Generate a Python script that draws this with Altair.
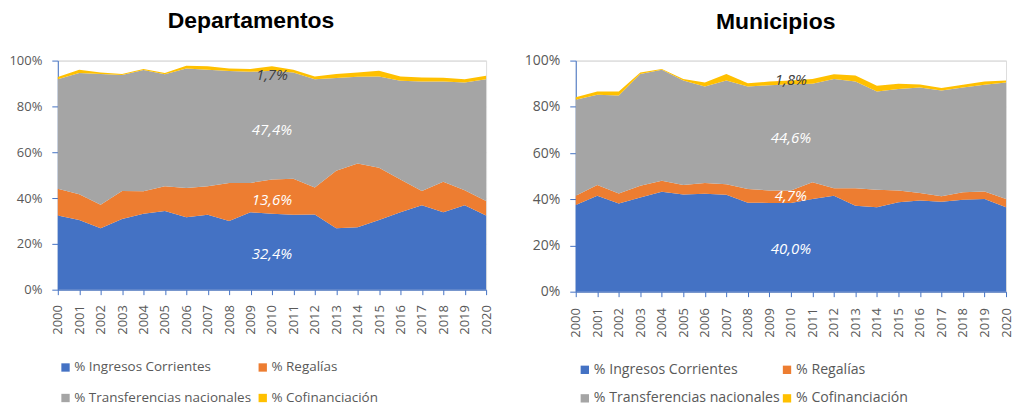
import altair as alt
import pandas as pd

years = list(range(2000, 2021))
series = ["% Ingresos Corrientes", "% Regalías", "% Transferencias nacionales", "% Cofinanciación"]
colors = ["#4472C4", "#ED7D31", "#A5A5A5", "#FFC000"]

# Departamentos (shares, %)
dep_ingresos = [32.4, 30.4, 26.8, 30.9, 33.1, 34.3, 31.6, 32.7, 30.0, 33.8, 33.1,
                32.7, 32.8, 26.8, 27.2, 30.4, 33.8, 36.8, 33.8, 36.8, 32.4]
dep_regalias = [11.7, 11.2, 10.3, 12.2, 9.9, 10.9, 12.8, 12.5, 16.6, 12.8, 15.0,
                15.7, 11.8, 25.1, 27.9, 22.8, 14.3, 6.3, 13.3, 6.6, 6.3]
dep_transfer = [47.8, 53.0, 57.0, 50.6, 52.9, 48.8, 52.2, 50.8, 48.8, 48.5, 47.5,
                46.4, 47.3, 40.5, 37.8, 39.9, 43.1, 47.8, 43.8, 47.0, 53.2]
dep_cofin = [0.9, 1.4, 0.7, 0.4, 0.4, 0.6, 1.2, 1.5, 1.2, 1.2, 1.9,
             1.2, 1.2, 1.7, 1.9, 2.5, 1.9, 1.7, 1.6, 1.5, 1.5]

# Municipios (shares, %)
mun_ingresos = [37.5, 41.5, 38.2, 40.8, 43.2, 42.1, 42.4, 41.9, 38.5, 38.4, 38.4,
                40.1, 41.5, 37.2, 36.5, 38.7, 39.4, 38.9, 39.8, 40.1, 36.5]
mun_regalias = [4.0, 4.7, 4.3, 5.0, 4.8, 4.1, 4.6, 4.6, 5.9, 5.4, 5.4,
                7.2, 3.2, 7.6, 7.6, 5.1, 3.3, 2.4, 3.2, 3.3, 3.6]
mun_transfer = [41.6, 39.0, 42.4, 48.4, 48.0, 45.2, 41.8, 44.9, 44.4, 45.5, 46.0,
                42.7, 47.3, 46.1, 42.5, 43.9, 45.7, 45.8, 45.4, 46.1, 50.4]
mun_cofin = [1.0, 1.4, 1.7, 0.6, 0.4, 0.6, 1.7, 2.8, 1.4, 1.6, 1.6,
             2.0, 2.1, 2.6, 2.5, 2.3, 1.3, 1.0, 1.1, 1.4, 0.9]

# Average-share annotations
dep_ann_text = ["1,7%", "47,4%", "13,6%", "32,4%"]
dep_ann_x = [2010, 2010, 2010, 2010]
dep_ann_y = [93.9, 69.7, 39.3, 15.7]
mun_ann_text = ["1,8%", "44,6%", "4,7%", "40,0%"]
mun_ann_x = [2010, 2010, 2010, 2010]
mun_ann_y = [91.4, 66.6, 41.3, 18.3]
ann_dark = [True, False, False, False]

FONT = "Open Sans"
AXIS_BLUE = "#4472C4"
LABEL_GRAY = "#595959"


def long_df(vals_list):
    rows = []
    for i, (name, vals) in enumerate(zip(series, vals_list)):
        for yr, v in zip(years, vals):
            rows.append({"year": yr, "serie": name, "orden": i, "valor": v})
    return pd.DataFrame(rows)


def ann_df(texts, xs, ys):
    return pd.DataFrame({"year": xs, "valor": ys, "label": texts, "dark": ann_dark})


def panel(df, adf, title, width, height, fs, lfs, legend_x, legend_y, col_pad, row_pad,
          title_offset, title_dx, xlab_pad):
    x_scale = alt.Scale(domain=[2000, 2020], nice=False, zero=False)
    x_axis = alt.Axis(values=years, format="d", labelAngle=-90, labelFontSize=13,
                      labelFont=FONT, labelColor=LABEL_GRAY, labelAlign="right",
                      labelBaseline="middle", labelPadding=xlab_pad, tickSize=5,
                      tickColor=AXIS_BLUE, domainColor=AXIS_BLUE, grid=False,
                      labelOverlap=False, labelSeparation=0)
    y_scale = alt.Scale(domain=[0, 100], nice=False)
    y_axis = alt.Axis(values=[0, 20, 40, 60, 80, 100], labelExpr="datum.value + '%'",
                      labelFontSize=fs, labelFont=FONT, labelColor=LABEL_GRAY,
                      labelPadding=10, tickSize=6, tickColor=AXIS_BLUE,
                      domainColor=AXIS_BLUE, grid=True, gridColor="#D9D9D9")
    area = alt.Chart(df).mark_area(opacity=1, interpolate="linear").encode(
        x=alt.X("year:Q", title=None, scale=x_scale, axis=x_axis),
        y=alt.Y("valor:Q", title=None, stack="zero", scale=y_scale, axis=y_axis),
        color=alt.Color("serie:N", sort=series,
                        scale=alt.Scale(domain=series, range=colors),
                        legend=alt.Legend(title=None, orient="none", legendX=legend_x,
                                          legendY=legend_y, columns=2, direction="horizontal",
                                          symbolType="square",
                                          symbolSize=70, symbolStrokeWidth=0,
                                          labelFontSize=lfs, labelFont=FONT,
                                          labelColor=LABEL_GRAY, labelOffset=2,
                                          columnPadding=col_pad, rowPadding=row_pad,
                                          labelLimit=400)),
        order=alt.Order("orden:Q"),
    )
    tx = alt.X("year:Q", title=None, scale=x_scale, axis=x_axis)
    ty = alt.Y("valor:Q", title=None, stack=None, scale=y_scale, axis=y_axis)
    txt_dark = alt.Chart(adf).transform_filter("datum.dark").mark_text(
        font=FONT, fontStyle="italic", fontSize=15, color="#404040").encode(
        x=tx, y=ty, text="label:N")
    txt_white = alt.Chart(adf).transform_filter("!datum.dark").mark_text(
        font=FONT, fontStyle="italic", fontSize=15, color="white").encode(
        x=tx, y=ty, text="label:N")
    return alt.layer(area, txt_dark, txt_white).properties(
        width=width, height=height,
        title=alt.TitleParams(title, font="Liberation Sans", fontSize=23, fontWeight="bold",
                              color="black", anchor="middle", frame="bounds",
                              offset=title_offset, dx=title_dx),
    )


left = panel(long_df([dep_ingresos, dep_regalias, dep_transfer, dep_cofin]),
             ann_df(dep_ann_text, dep_ann_x, dep_ann_y),
             "Departamentos", 430, 230, 13, 13.5, 1, 301, 4, 16, 22, 0, 10)
right = panel(long_df([mun_ingresos, mun_regalias, mun_transfer, mun_cofin]),
              ann_df(mun_ann_text, mun_ann_x, mun_ann_y),
              "Municipios", 432, 232, 14, 14.2, 2, 303, 0, 14, 20, 7, 11)

chart = alt.hconcat(left, right, spacing=29).resolve_scale(color="independent").resolve_legend(
    color="independent").properties(
    padding={"left": 0, "top": 0, "right": 0, "bottom": 0}
).configure_view(stroke=None).configure(background="white")

chart.save("out.html", embed_options={"renderer": "svg", "actions": False})
